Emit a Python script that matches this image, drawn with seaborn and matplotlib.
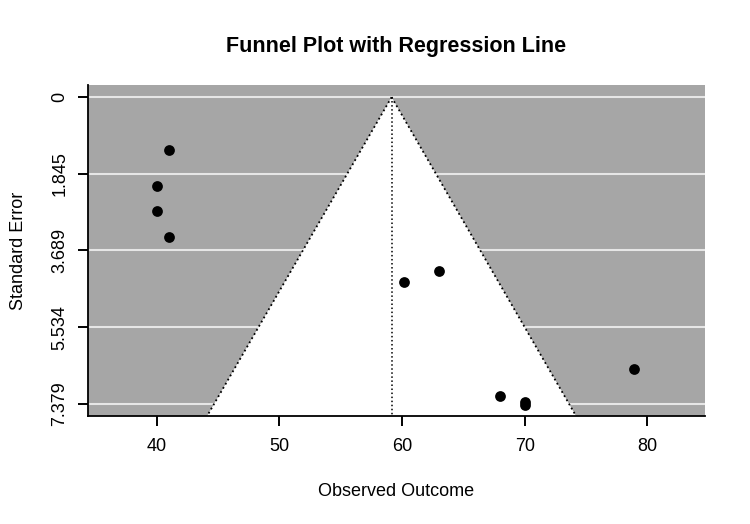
import matplotlib
matplotlib.use('Agg')
import matplotlib.pyplot as plt
from matplotlib.lines import TICKDOWN, TICKLEFT
import numpy as np
import pandas as pd
import seaborn as sns

# observed outcomes and their standard errors
outcome = [41.0, 40.0, 40.0, 41.0, 60.2, 63.0, 68.0, 70.0, 70.0, 78.9]
std_err = [1.28, 2.14, 2.75, 3.37, 4.46, 4.19, 7.18, 7.33, 7.40, 6.53]
estimate = 59.15
y_ticks = [0, 1.845, 3.689, 5.534, 7.379]
y_ticklabels = ['0', '1.845', '3.689', '5.534', '7.379']
x_ticks = [40, 50, 60, 70, 80]

df = pd.DataFrame({'outcome': outcome, 'se': std_err})

sns.set_style('ticks')
plt.rcParams['font.family'] = ['Liberation Sans', 'DejaVu Sans']
plt.rcParams['text.color'] = 'black'
plt.rcParams['axes.labelcolor'] = 'black'
plt.rcParams['xtick.color'] = 'black'
plt.rcParams['ytick.color'] = 'black'
plt.rcParams['xtick.labelsize'] = 13
plt.rcParams['ytick.labelsize'] = 13
plt.rcParams['xtick.major.pad'] = 9
plt.rcParams['ytick.major.pad'] = 7

fig = plt.figure(figsize=(7.5, 5.24), dpi=100)
ax = fig.add_axes([0.1173, 0.206, 0.8227, 0.632])

xlim = (34.4, 84.7)
se_max = 7.379
ylim_bottom = se_max * 1.04
ylim_top = -se_max * 0.04

ax.set_xlim(xlim)
ax.set_ylim(ylim_bottom, ylim_top)
ax.set_facecolor('#a6a6a6')

# horizontal reference lines
for yt in y_ticks:
    ax.axhline(yt, color='#e6e6e6', lw=1.5, zorder=1)

# white funnel (estimate +/- 1.96 se)
se_grid = np.array([0, ylim_bottom])
lo = estimate - 1.96 * se_grid
hi = estimate + 1.96 * se_grid
ax.fill([estimate, lo[1], hi[1]], [0, ylim_bottom, ylim_bottom],
        color='white', zorder=2, lw=0)
ax.plot(lo, se_grid, color='black', ls=':', lw=1.3, zorder=3)
ax.plot(hi, se_grid, color='black', ls=':', lw=1.3, zorder=3)
ax.plot([estimate, estimate], [0, ylim_bottom], color='black', ls=':', lw=1.1, zorder=3)

sns.scatterplot(data=df, x='outcome', y='se', color='black', s=60,
                edgecolor='black', linewidth=0, ax=ax, zorder=4)

ax.set_xticks(x_ticks)
ax.set_yticks(y_ticks)
ax.set_yticklabels(y_ticklabels)
plt.setp(ax.get_yticklabels(), rotation=90, va='center')
ax.tick_params(axis='both', direction='out', length=7, width=1.2, color='black')

# tick marks drawn explicitly along the axis lines
ax.plot(x_ticks, [0] * len(x_ticks), transform=ax.get_xaxis_transform(),
        ls='none', marker=TICKDOWN, ms=7, mew=1.2, color='black',
        clip_on=False, zorder=10)
ax.plot([0] * len(y_ticks), y_ticks, transform=ax.get_yaxis_transform(),
        ls='none', marker=TICKLEFT, ms=7, mew=1.2, color='black',
        clip_on=False, zorder=10)

for side in ['top', 'right']:
    ax.spines[side].set_visible(False)
for side in ['left', 'bottom']:
    ax.spines[side].set_color('black')
    ax.spines[side].set_linewidth(1.3)

ax.set_xlabel('Observed Outcome', fontsize=13, labelpad=20, color='black')
ax.set_ylabel('Standard Error', fontsize=13, labelpad=18, color='black')
ax.set_title('Funnel Plot with Regression Line', fontsize=15.5,
             fontweight='bold', pad=24, color='black')

fig.savefig('out.png', dpi=100)
